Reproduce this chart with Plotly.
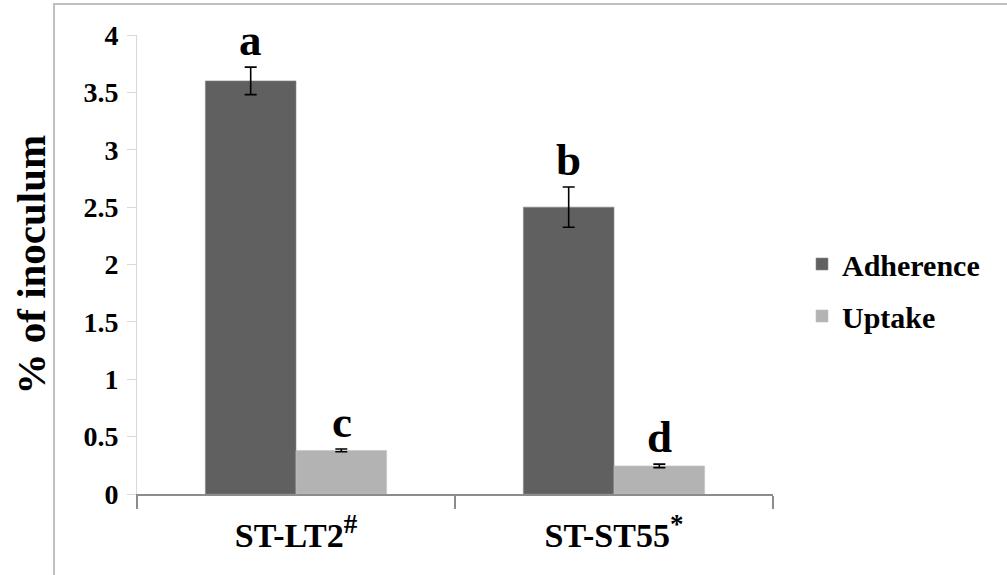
import plotly.graph_objects as go

categories = ["<b>ST-LT2<sup><span style='font-size:27px'>#</span></sup></b>",
              "<b>ST-ST55<sup><span style='font-size:27px'>*</span></sup></b>"]
adherence = [3.6, 2.5]
adherence_err = [0.12, 0.175]
uptake = [0.38, 0.245]
uptake_err = [0.012, 0.015]
adherence_letters = ["a", "b"]
uptake_letters = ["c", "d"]
y_ticks = [0, 0.5, 1, 1.5, 2, 2.5, 3, 3.5, 4]
series_names = ["Adherence", "Uptake"]

FONT = "Liberation Serif, Times New Roman, serif"
W, H = 1007, 575
L, R, T, B = 137, 234, 35, 81
PW, PH = W - L - R, H - T - B

fig = go.Figure()
fig.add_trace(go.Bar(
    name=f"<b>{series_names[0]}</b>", x=categories, y=adherence,
    marker=dict(color="#606060", line=dict(color="#8a8a8a", width=0.6)),
    error_y=dict(type="data", array=adherence_err, color="black", thickness=1.6, width=6),
    legendgroup="g1",
))
fig.add_trace(go.Bar(
    name=f"<b>{series_names[1]}</b>", x=categories, y=uptake,
    marker=dict(color="#b3b3b3", line=dict(color="#c4c4c4", width=0.6)),
    error_y=dict(type="data", array=uptake_err, color="black", thickness=1.6, width=6),
    legendgroup="g2",
))

annotations = []
for i, c in enumerate(categories):
    annotations.append(dict(x=c, y=adherence[i] + adherence_err[i], text=f"<b>{adherence_letters[i]}</b>",
                            xref="x", yref="y", xshift=-45.5, yshift=0, yanchor="bottom",
                            showarrow=False, font=dict(family=FONT, size=45, color="black")))
    annotations.append(dict(x=c, y=uptake[i] + uptake_err[i], text=f"<b>{uptake_letters[i]}</b>",
                            xref="x", yref="y", xshift=45.5, yshift=0, yanchor="bottom",
                            showarrow=False, font=dict(family=FONT, size=45, color="black")))

annotations.append(dict(x=(30 - L) / PW, y=0.5, xref="paper", yref="paper", text="<b>% of inoculum</b>",
                        textangle=-90, showarrow=False, xanchor="center", yanchor="middle",
                        font=dict(family=FONT, size=41, color="black")))

fig.update_layout(
    width=W, height=H,
    margin=dict(l=L, r=R, t=T, b=B, pad=0),
    paper_bgcolor="white", plot_bgcolor="white",
    barmode="group", bargap=0.43, bargroupgap=0,
    font=dict(family=FONT, color="black", size=29),
    showlegend=True,
    legend=dict(x=(802 - L) / PW, y=(494 - 290) / PH, xanchor="left", yanchor="middle",
                font=dict(family=FONT, size=30, color="black"),
                tracegroupgap=10, traceorder="grouped", bgcolor="rgba(0,0,0,0)"),
    annotations=annotations,
    shapes=[dict(type="rect", xref="paper", yref="paper",
                 x0=(54 - L) / PW, x1=(1012 - L) / PW, y0=(494 - 590) / PH, y1=(494 - 4) / PH,
                 line=dict(color="#c0c0c0", width=2), fillcolor="rgba(0,0,0,0)", layer="below")],
    xaxis=dict(
        showline=True, linecolor="#8c8c8c", linewidth=2,
        ticks="outside", tickson="boundaries", ticklen=13, tickwidth=2, tickcolor="#8c8c8c",
        tickfont=dict(family=FONT, size=34, color="black"),
        ticklabelstandoff=10,
        showgrid=False,
    ),
    yaxis=dict(
        range=[0, 4], tickvals=y_ticks, ticktext=[f"<b>{v:g}</b>" for v in y_ticks],
        showline=True, linecolor="#d9d9d9", linewidth=1,
        ticks="outside", ticklen=9, tickwidth=1, tickcolor="#d9d9d9",
        tickfont=dict(family=FONT, size=28, color="black"),
        ticklabelstandoff=3,
        showgrid=False, zeroline=False,
    ),
)

fig.write_html("out.html")
